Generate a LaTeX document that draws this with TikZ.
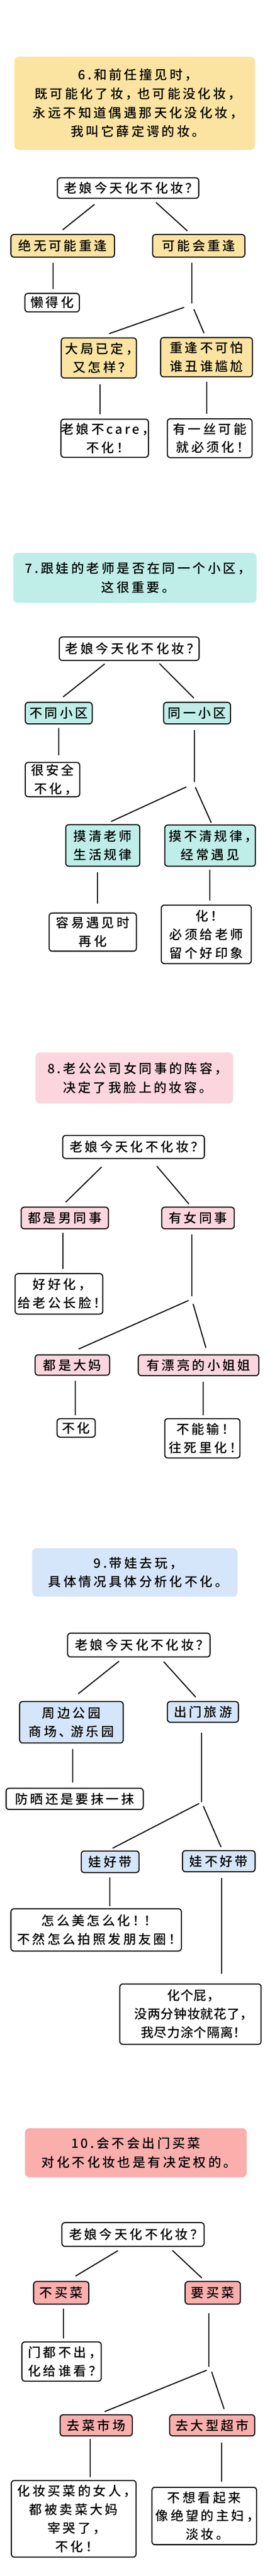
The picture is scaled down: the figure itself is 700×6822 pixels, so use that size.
\documentclass[tikz,border=0pt]{standalone}
\usepackage{fontspec}
\newfontfamily\hand[LetterSpace=18,RawFeature=+halt]{Noto Sans CJK SC Medium}
\newfontfamily\handtight[LetterSpace=3,RawFeature=+halt]{Noto Sans CJK SC Medium}
\definecolor{tipyellow}{HTML}{FBE3A1}
\definecolor{tipcyan}{HTML}{BFEEE8}
\definecolor{tippink}{HTML}{FCD6DE}
\definecolor{tipblue}{HTML}{D6E6FA}
\definecolor{tipred}{HTML}{FAAFAD}
\tikzset{
  box/.style={draw,line width=2.8pt,rounded corners=8pt,inner sep=0pt,align=center,font=\hand\fontsize{34}{49}\selectfont},
  title/.style={rounded corners=12pt,inner sep=0pt,align=center,font=\hand\fontsize{34}{50}\selectfont},
  link/.style={line width=2.8pt}
}
\begin{document}
\begin{tikzpicture}[x=1pt,y=-1pt]
\fill[white] (0,0) rectangle (700,6822);
\useasboundingbox (0,0) rectangle (700,6822);

\node[title,fill=tipyellow,minimum width=637pt,minimum height=247pt] (t6) at (356.5,273.5) {6.和前任撞见时，\\既可能化了妆， 也可能没化妆，\\永远不知道偶遇那天化没化妆，\\我叫它薛定谔的妆。};
\node[box,fill=white,minimum width=374pt,minimum height=54pt] (r6) at (339,498) {老娘今天化不化妆？};
\node[box,fill=tipyellow,minimum width=274pt,minimum height=60pt] (a6) at (166,651) {绝无可能重逢};
\node[box,fill=tipyellow,minimum width=244pt,minimum height=60pt] (b6) at (526,651) {可能会重逢};
\node[box,fill=white,minimum width=144pt,minimum height=49pt] (a6x) at (138,801.5) {懒得化};
\coordinate (f6) at (508,804);
\node[box,fill=tipyellow,minimum width=199pt,minimum height=106pt] (b6a) at (261.5,948) {大局已定，\\又怎样？};
\node[box,fill=tipyellow,minimum width=243pt,minimum height=104pt] (b6b) at (546.5,946) {重逢不可怕\\谁丑谁尴尬};
\node[box,fill=white,minimum width=216pt,minimum height=101pt] (b6ax) at (277,1160.5) {老娘不care，\\不化！};
\node[box,fill=white,minimum width=224pt,minimum height=103pt] (b6bx) at (555,1160.5) {有一丝可能\\就必须化！};
\path[draw,link] ([shift={(-89,15)}]r6.south) -- ([shift={(0,-11)}]a6.north);
\path[draw,link] ([shift={(74,10)}]r6.south) -- ([shift={(-30,-8)}]b6.north);
\path[draw,link] ([shift={(-25,14)}]a6.south) -- ([shift={(3,-10)}]a6x.north);
\path[draw,link] ([shift={(-18,14)}]b6.south) -- (f6);
\path[draw,link] ([shift={(-21,10)}]f6) -- ([shift={(27.5,-10)}]b6a.north);
\path[draw,link] ([shift={(5,15)}]f6) -- ([shift={(-6.5,-10)}]b6b.north);
\path[draw,link] ([shift={(3.5,16)}]b6a.south) -- ([shift={(-12,-11)}]b6ax.north);
\path[draw,link] ([shift={(0.5,11)}]b6b.south) -- ([shift={(-8,-12)}]b6bx.north);

\node[title,fill=tipcyan,minimum width=644pt,minimum height=133pt] (t7) at (357,1530.5) {7.跟娃的老师是否在同一个小区，\\这很重要。};
\node[box,fill=white,minimum width=370pt,minimum height=62pt] (r7) at (342,1718) {老娘今天化不化妆？};
\node[box,fill=tipcyan,minimum width=177pt,minimum height=57pt] (a7) at (155.5,1888.5) {不同小区};
\node[box,fill=tipcyan,minimum width=177pt,minimum height=57pt] (b7) at (521.5,1888.5) {同一小区};
\node[box,fill=white,minimum width=144pt,minimum height=91pt] (a7x) at (139,2064.5) {很安全\\不化，};
\coordinate (f7) at (514,2071);
\node[box,fill=tipcyan,minimum width=196pt,minimum height=110pt] (b7a) at (272,2239) {摸清老师\\生活规律};
\node[box,fill=tipcyan,minimum width=240pt,minimum height=109pt] (b7b) at (556,2239.5) {摸不清规律，\\经常遇见};
\node[box,fill=white,minimum width=231pt,minimum height=101pt] (b7ax) at (245.5,2468.5) {容易遇见时\\再化};
\node[box,fill=white,minimum width=238pt,minimum height=155pt] (b7bx) at (546,2474.5) {化！\\必须给老师\\留个好印象};
\path[draw,link] ([shift={(-65,8)}]r7.south) -- ([shift={(11.5,-13)}]a7.north);
\path[draw,link] ([shift={(80,7)}]r7.south) -- ([shift={(-8.5,-10)}]b7.north);
\path[draw,link] ([shift={(-0.5,10)}]a7.south) -- ([shift={(16,-17)}]a7x.north);
\path[draw,link] ([shift={(-7.5,15)}]b7.south) -- (f7);
\path[draw,link] ([shift={(-21,13)}]f7) -- ([shift={(22,-7)}]b7a.north);
\path[draw,link] ([shift={(3,14)}]f7) -- ([shift={(3,-5)}]b7b.north);
\path[draw,link] ([shift={(-14,14)}]b7a.south) -- ([shift={(12.5,-23)}]b7ax.north);
\path[draw,link] ([shift={(-1,8)}]b7b.south) -- ([shift={(9,-10)}]b7bx.north);

\node[title,fill=tippink,minimum width=523pt,minimum height=135pt] (t8) at (355.5,2854.5) {8.老公公司女同事的阵容，\\决定了我脸上的妆容。};
\node[box,fill=white,minimum width=375pt,minimum height=61pt] (r8) at (353.5,3037.5) {老娘今天化不化妆？};
\node[box,fill=tippink,minimum width=231pt,minimum height=57pt] (a8) at (171.5,3225.5) {都是男同事};
\node[box,fill=tippink,minimum width=192pt,minimum height=57pt] (b8) at (524,3225.5) {有女同事};
\node[box,fill=white,minimum width=232pt,minimum height=107pt] (a8x) at (156,3426.5) {好好化，\\给老公长脸！};
\coordinate (f8) at (507,3433);
\node[box,fill=tippink,minimum width=197pt,minimum height=54pt] (b8a) at (191.5,3615) {都是大妈};
\node[box,fill=tippink,minimum width=319pt,minimum height=55pt] (b8b) at (525.5,3615.5) {有漂亮的小姐姐};
\node[box,fill=white,minimum width=101pt,minimum height=49pt] (b8ax) at (201.5,3781.5) {不化};
\node[box,fill=white,minimum width=199pt,minimum height=104pt] (b8bx) at (535.5,3809) {不能输！\\往死里化！};
\path[draw,link] ([shift={(-84.5,21)}]r8.south) -- ([shift={(2.5,-12)}]a8.north);
\path[draw,link] ([shift={(61.5,19)}]r8.south) -- ([shift={(-24,-7)}]b8.north);
\path[draw,link] ([shift={(-5.5,10)}]a8.south) -- ([shift={(10,-11)}]a8x.north);
\path[draw,link] ([shift={(-17,13)}]b8.south) -- (f8);
\path[draw,link] ([shift={(-8,11)}]f8) -- ([shift={(16.5,-14)}]b8a.north);
\path[draw,link] ([shift={(4,20)}]f8) -- ([shift={(19.5,-17)}]b8b.north);
\path[draw,link] ([shift={(7.5,13)}]b8a.south) -- ([shift={(-2.5,-7)}]b8ax.north);
\path[draw,link] ([shift={(11.5,15)}]b8b.south) -- ([shift={(1.5,-8)}]b8bx.north);

\node[title,fill=tipblue,minimum width=544pt,minimum height=128pt] (t9) at (357,4164) {9.带娃去玩，\\具体情况具体分析化不化。};
\node[box,fill=white,minimum width=377pt,minimum height=63pt] (r9) at (367.5,4356.5) {老娘今天化不化妆？};
\node[box,fill=tipblue,minimum width=274pt,minimum height=110pt] (a9) at (189,4561) {周边公园\\商场、 游乐园};
\node[box,fill=tipblue,minimum width=188pt,minimum height=55pt] (b9) at (537,4533.5) {出门旅游};
\node[box,fill=white,minimum width=363pt,minimum height=56pt] (a9x) at (197.5,4764) {防晒还是要抹一抹};
\coordinate (f9) at (534,4772);
\node[box,fill=tipblue,minimum width=153pt,minimum height=57pt] (b9a) at (291.5,4930.5) {娃好带};
\node[box,fill=tipblue,minimum width=192pt,minimum height=56pt] (b9b) at (579,4929) {娃不好带};
\node[box,fill=white,minimum width=451pt,minimum height=112pt] (b9ax) at (254.5,5111) {怎么美怎么化！ ！\\不然怎么拍照发朋友圈！};
\node[box,fill=white,font=\handtight\fontsize{34}{49}\selectfont,minimum width=374pt,minimum height=160pt] (b9bx) at (504,5334) {化个屁，\\没两分钟妆就花了，\\我尽力涂个隔离！};
\path[draw,link] ([shift={(-52.5,10)}]r9.south) -- ([shift={(18,-19)}]a9.north);
\path[draw,link] ([shift={(65.5,11)}]r9.south) -- ([shift={(-19,-10)}]b9.north);
\path[draw,link] ([shift={(4,14)}]a9.south) -- ([shift={(-4.5,-14)}]a9x.north);
\path[draw,link] ([shift={(-3,26)}]b9.south) -- (f9);
\path[draw,link] ([shift={(-7,4)}]f9) -- ([shift={(6.5,-6)}]b9a.north);
\path[draw,link] ([shift={(4,11)}]f9) -- ([shift={(6,-8)}]b9b.north);
\path[draw,link] ([shift={(-1.5,11)}]b9a.south) -- ([shift={(35.5,-6)}]b9ax.north);
\path[draw,link] ([shift={(8,15)}]b9b.south) -- ([shift={(83,-25)}]b9bx.north);

\node[title,fill=tipred,minimum width=587pt,minimum height=130pt] (t10) at (359.5,5701) {10.会不会出门买菜\\对化不化妆也是有决定权的。};
\node[box,fill=white,minimum width=376pt,minimum height=63pt] (r10) at (352,5917.5) {老娘今天化不化妆？};
\node[box,fill=tipred,minimum width=146pt,minimum height=60pt] (a10) at (162,6072) {不买菜};
\node[box,fill=tipred,minimum width=146pt,minimum height=60pt] (b10) at (563,6072) {要买菜};
\node[box,fill=white,minimum width=210pt,minimum height=104pt] (a10x) at (163,6254) {门都不出，\\化给谁看？};
\coordinate (f10) at (553,6268);
\node[box,fill=tipred,minimum width=191pt,minimum height=56pt] (b10a) at (254.5,6423) {去菜市场};
\node[box,fill=tipred,minimum width=225pt,minimum height=56pt] (b10b) at (561.5,6423) {去大型超市};
\node[box,fill=white,minimum width=330pt,minimum height=203pt] (b10ax) at (195,6670.5) {化妆买菜的女人，\\都被卖菜大妈\\宰哭了，\\不化！};
\node[box,fill=white,minimum width=277pt,minimum height=152pt] (b10bx) at (540.5,6663) {不想看起来\\像绝望的主妇，\\淡妆。};
\path[draw,link] ([shift={(-40,10)}]r10.south) -- ([shift={(38,-13)}]a10.north);
\path[draw,link] ([shift={(104,9)}]r10.south) -- ([shift={(-29,-8)}]b10.north);
\path[draw,link] ([shift={(6,11)}]a10.south) -- ([shift={(5,-7)}]a10x.north);
\path[draw,link] ([shift={(-10,22)}]b10.south) -- (f10);
\path[draw,link] ([shift={(-6,9)}]f10) -- ([shift={(22.5,-7)}]b10a.north);
\path[draw,link] ([shift={(7,13)}]f10) -- ([shift={(31.5,-14)}]b10b.north);
\path[draw,link] ([shift={(-15.5,6)}]b10a.south) -- ([shift={(44,-7)}]b10ax.north);
\path[draw,link] ([shift={(25.5,16)}]b10b.south) -- ([shift={(46.5,-13)}]b10bx.north);
\end{tikzpicture}
\end{document}
